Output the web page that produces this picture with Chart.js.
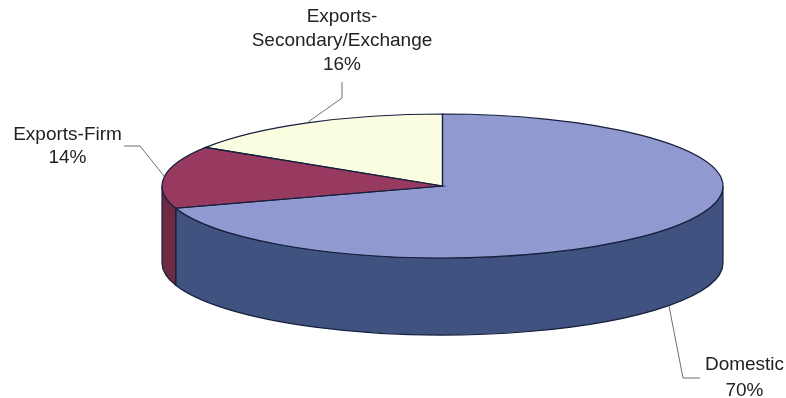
<!DOCTYPE html>
<html>
<head>
<meta charset="utf-8">
<style>html,body{margin:0;padding:0;background:#fff}canvas{display:block}</style>
<script src="https://cdn.jsdelivr.net/npm/chart.js@4"></script>
</head>
<body>
<canvas id="c" width="786" height="398"></canvas>
<script>
const categories = ["Domestic", "Exports-Firm", "Exports-Secondary/Exchange"];
const values = [70, 14, 16];
const topColors = ["#9099d0", "#983a60", "#fbfde0"];
const wallColors = ["#40527f", "#6d2a42", "#b0b19c"];

const CX = 442.5, CY = 186, RX = 280.5, RY = 72, DEPTH = 77;
const OUTLINE = "#16203c";

const labels = [
  {lines:["Domestic","70%"], x:744.5, y:[365,391], path:[[669,306],[683,378],[700,378]]},
  {lines:["Exports-Firm","14%"], x:67.5, y:[135,158], path:[[124,146],[140,146],[164,176]]},
  {lines:["Exports-","Secondary/Exchange","16%"], x:342, y:[17,41,65], path:[[342,82],[342,98],[308,122]]}
];

const pie3d = {
  id: "pie3d",
  beforeDatasetsDraw(chart) {
    const ctx = chart.ctx, arcs = chart.getDatasetMeta(0).data;
    // walls, built from the angles the library computed for each slice
    arcs.forEach((a, i) => {
      const s = Math.max(a.startAngle, 0), e = Math.min(a.endAngle, Math.PI);
      if (e <= s) return;
      ctx.beginPath();
      ctx.ellipse(CX, CY, RX, RY, 0, s, e);
      ctx.ellipse(CX, CY + DEPTH, RX, RY, 0, e, s, true);
      ctx.closePath();
      ctx.fillStyle = wallColors[i];
      ctx.fill();
      ctx.strokeStyle = OUTLINE;
      ctx.lineWidth = 1.2;
      ctx.stroke();
    });
    // squash the library's round pie into the top ellipse
    ctx.save();
    const a0 = arcs[0];
    const sx = RX / a0.outerRadius, sy = RY / a0.outerRadius;
    ctx.translate(CX, CY);
    ctx.scale(sx, sy);
    ctx.translate(-a0.x, -a0.y);
  },
  afterDatasetsDraw(chart) {
    const ctx = chart.ctx, arcs = chart.getDatasetMeta(0).data;
    ctx.restore();
    arcs.forEach(a => {
      ctx.beginPath();
      ctx.moveTo(CX, CY);
      ctx.ellipse(CX, CY, RX, RY, 0, a.startAngle, a.endAngle);
      ctx.closePath();
      ctx.strokeStyle = OUTLINE;
      ctx.lineWidth = 1.2;
      ctx.stroke();
    });
    // leader lines and labels
    ctx.strokeStyle = "#6f6f6f";
    ctx.lineWidth = 1;
    ctx.fillStyle = "#222";
    ctx.font = "19px 'Liberation Sans', Arial, sans-serif";
    ctx.textAlign = "center";
    ctx.textBaseline = "middle";
    labels.forEach(l => {
      ctx.beginPath();
      l.path.forEach((p, i) => i ? ctx.lineTo(p[0], p[1]) : ctx.moveTo(p[0], p[1]));
      ctx.stroke();
      l.lines.forEach((t, i) => ctx.fillText(t, l.x, l.y[i]));
    });
  }
};

new Chart(document.getElementById("c"), {
  type: "pie",
  data: {
    labels: categories,
    datasets: [{ data: values, backgroundColor: topColors, borderWidth: 0 }]
  },
  options: {
    responsive: false,
    animation: false,
    layout: { padding: 0 },
    plugins: { legend: { display: false }, tooltip: { enabled: false } }
  },
  plugins: [pie3d]
});
</script>
</body>
</html>
